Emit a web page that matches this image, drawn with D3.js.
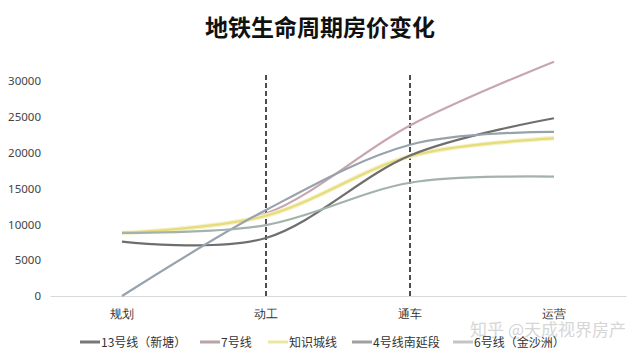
<!DOCTYPE html>
<html><head><meta charset="utf-8">
<script src="https://cdn.jsdelivr.net/npm/d3@7"></script>
<style>body{margin:0;background:#fff;}svg{display:block;font-family:"Noto Sans CJK SC","Noto Sans",sans-serif;}</style>
</head><body><svg id="c" width="640" height="358"></svg>
<script>
const categories = ["规划","动工","通车","运营"];
const seriesNames = ["13号线（新塘）","7号线","知识城线","4号线南延段","6号线（金沙洲）"];
const line13 = [7600, 8100, 19600, 24800];
const line7 = [8800, 11500, 23800, 32700];
const lineZSC = [8800, 11200, 19500, 22000];
const line4 = [0, 12000, 21100, 22900];
const line6 = [8800, 9900, 15800, 16650];
const yTicks = [0,5000,10000,15000,20000,25000,30000];
const markers = ["动工","通车"];
const colors = ["#6e6e6e","#c8a6ae","#e6dc7a","#97a2ac","#a3b3ab"];
const legendColors = ["#777","#b9a2a8","#ebe6a0","#a0a0a0","#c4c4c4"];
const seriesData = [line13, line7, lineZSC, line4, line6];
const drawOrder = [1, 2, 0, 3, 4];

const svg = d3.select("#c");
const x = d3.scaleBand().domain(categories).range([50, 626]);
const y = d3.scaleLinear().domain([0, 30000]).range([296, 81]);
const cx = c => x(c) + x.bandwidth()/2;

// title
svg.append("text").attr("x", 320).attr("y", 36).attr("text-anchor","middle")
  .attr("font-size", 23).attr("font-weight", 700).attr("fill","#111").text("地铁生命周期房价变化");

// watermark
svg.append("text").attr("x", 626).attr("y", 336).attr("text-anchor","end")
  .attr("font-size", 17).attr("fill","#d6d6d6").text("知乎 @天成视界房产");

// y axis labels
const yAxis = d3.axisLeft(y).tickValues(yTicks).tickSize(0).tickPadding(0).tickFormat(d3.format("d"));
const ya = svg.append("g").attr("transform","translate(41,0)").call(yAxis);
ya.select(".domain").remove();
ya.selectAll("text").attr("font-size", 11.5).attr("fill","#444").attr("font-family","'Noto Sans','Liberation Sans',sans-serif");

// x axis
const xAxis = d3.axisBottom(x).tickSize(0).tickPadding(13);
const xa = svg.append("g").attr("transform","translate(0,296)").call(xAxis);
xa.select(".domain").attr("stroke","#d9d9d9").attr("stroke-width",1);
xa.selectAll("text").attr("font-size", 12).attr("fill","#333");

// dashed markers
svg.selectAll(".mk").data(markers).enter().append("line")
  .attr("x1", d=>cx(d)).attr("x2", d=>cx(d)).attr("y1", 75).attr("y2", 296)
  .attr("stroke","#222").attr("stroke-width",1.6).attr("stroke-dasharray","5,3");

// lines
const lineGen = d3.line().x((d,i)=>cx(categories[i])).y(d=>y(d)).curve(d3.curveCardinal.tension(0));
drawOrder.forEach(k=>{
  const s = seriesData[k];
  if (k===2) {
    svg.append("path").attr("d", lineGen(s)).attr("fill","none").attr("stroke","#f5f1c8").attr("stroke-width",4.5);
  }
  svg.append("path").attr("d", lineGen(s)).attr("fill","none").attr("stroke", colors[k]).attr("stroke-width", 2.2);
});

// legend
const legX = [80, 200, 268, 352, 453];
const lg = svg.append("g");
seriesNames.forEach((n,i)=>{
  lg.append("line").attr("x1", legX[i]).attr("x2", legX[i]+20).attr("y1", 342).attr("y2", 342)
    .attr("stroke", legendColors[i]).attr("stroke-width", 3);
  lg.append("text").attr("x", legX[i]+21).attr("y", 346.5).attr("font-size", 12).attr("fill","#333").text(n);
});
</script></body></html>
